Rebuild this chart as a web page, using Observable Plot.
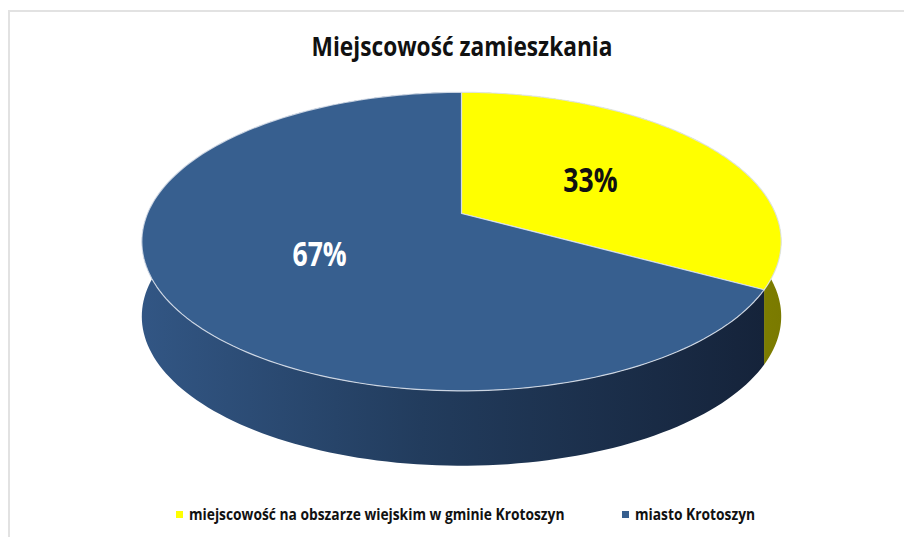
<!DOCTYPE html>
<html>
<head>
<meta charset="utf-8">
<script src="https://cdn.jsdelivr.net/npm/d3@7"></script>
<script src="https://cdn.jsdelivr.net/npm/@observablehq/plot@0.6"></script>
<style>
  html, body { margin: 0; padding: 0; background: #fff; }
  #wrap { position: relative; width: 904px; height: 537px; overflow: hidden; font-family: "Open Sans", sans-serif; }
  #frame { position: absolute; left: 8px; top: 10px; right: -4px; bottom: -4px; border-top: 2px solid #e2e2e2; border-left: 2px solid #e2e2e2; }
  #title { position: absolute; top: 27px; left: 462px; transform: translateX(-50%) scaleX(0.84); font-size: 27px; font-weight: bold; color: #111; white-space: nowrap; }
  #chart { position: absolute; top: 70px; left: 0; }
  #legend { position: absolute; top: 503px; left: 176px; display: flex; font-size: 15.5px; font-weight: bold; color: #111; white-space: nowrap; }
  .item { display: flex; align-items: center; position: absolute; top: 0; }
  .sw { width: 7px; height: 7px; margin-right: 6px; display: inline-block; }
  .tx { display: inline-block; transform-origin: left center; transform: scaleX(0.89); }
</style>
</head>
<body>
<div id="wrap">
  <div id="frame"></div>
  <div id="title">Miejscowość zamieszkania</div>
  <div id="chart"></div>
  <div id="legend"></div>
</div>
<script>
const categories = ["miejscowość na obszarze wiejskim w gminie Krotoszyn", "miasto Krotoszyn"];
const values = [33, 67];
const labels = ["33%", "67%"];
const topColors = ["#ffff00", "#375f8f"];
const labelColors = ["#111111", "#ffffff"];

// projection parameters (layout only)
const k = 0.188;      // perspective
const depth = 0.52;   // wall height in y-units
const N = 160;

function proj(r, a, h) {
  const u = r * Math.sin(a), v = r * Math.cos(a);
  const w = 1 + k * v;
  return {x: u / w, y: v / w - h};
}

const arcs = d3.pie().sort(null).startAngle(0).endAngle(2 * Math.PI)(values);

function arcPts(a0, a1, h) {
  const pts = [];
  for (let i = 0; i <= N; i++) pts.push(proj(1, a0 + (a1 - a0) * i / N, h));
  return pts;
}

const topPolys = arcs.map((d, i) => {
  const pts = [proj(0, 0, 0), ...arcPts(d.startAngle, d.endAngle, 0), proj(0, 0, 0)];
  return pts.map(p => ({...p, id: categories[i]}));
});
const wallPolys = arcs.map((d, i) => {
  const t = arcPts(d.startAngle, d.endAngle, 0);
  const b = arcPts(d.startAngle, d.endAngle, depth).reverse();
  return [...t, ...b, t[0]].map(p => ({...p, id: categories[i]}));
});

const labelData = arcs.map((d, i) => {
  const m = (d.startAngle + d.endAngle) / 2;
  const p = proj(0.5, m, 0);
  return {x: p.x, y: p.y, text: labels[i], color: labelColors[i]};
});

const defs = () => {
  const g = d3.create("svg:defs");
  const gb = g.append("linearGradient").attr("id", "wallBlue").attr("x1", "0").attr("x2", "1").attr("y1", "0").attr("y2", "0");
  gb.append("stop").attr("offset", "0%").attr("stop-color", "#325684");
  gb.append("stop").attr("offset", "45%").attr("stop-color", "#223c5d");
  gb.append("stop").attr("offset", "100%").attr("stop-color", "#15233a");
  const gy = g.append("linearGradient").attr("id", "wallYellow").attr("x1", "0").attr("x2", "1").attr("y1", "0").attr("y2", "0");
  gy.append("stop").attr("offset", "0%").attr("stop-color", "#a8a800");
  gy.append("stop").attr("offset", "100%").attr("stop-color", "#7a7a00");
  return g.node();
};
const wallFills = ["url(#wallYellow)", "url(#wallBlue)"];

const cx = 461, cy = 143, A = 314, B = 144;

const chart = Plot.plot({
  width: 904,
  height: 420,
  margin: 0,
  x: {domain: [-1, 1], range: [cx - A, cx + A], axis: null},
  y: {domain: [-1, 1], range: [cy + B, cy - B], axis: null},
  marks: [
    defs,
    ...wallPolys.map((pts, i) => Plot.line(pts, {x: "x", y: "y", fill: wallFills[i], stroke: "none", curve: "linear"})),
    ...topPolys.map((pts, i) => Plot.line(pts, {x: "x", y: "y", fill: topColors[i], stroke: "#dfe5ee", strokeWidth: 1.2, strokeOpacity: 0.85, curve: "linear"})),
    Plot.text(labelData, {x: "x", y: "y", text: "text", fill: "color", fontSize: 34, fontWeight: "bold", fontFamily: "Open Sans, sans-serif", dy: 3, className: "pct"})
  ]
});
// condense the percentage labels horizontally
d3.select(chart).selectAll(".pct text").each(function() {
  const t = this.getAttribute("transform") || "";
  this.setAttribute("transform", t + " scale(0.78,1)");
});
document.getElementById("chart").appendChild(chart);

const legend = document.getElementById("legend");
const legendX = [0, 446];
categories.forEach((c, i) => {
  const it = document.createElement("div");
  it.className = "item";
  it.style.left = legendX[i] + "px";
  const sw = document.createElement("span");
  sw.className = "sw";
  sw.style.background = topColors[i];
  const tx = document.createElement("span");
  tx.className = "tx";
  tx.textContent = c;
  it.appendChild(sw); it.appendChild(tx);
  legend.appendChild(it);
});
</script>
</body>
</html>
